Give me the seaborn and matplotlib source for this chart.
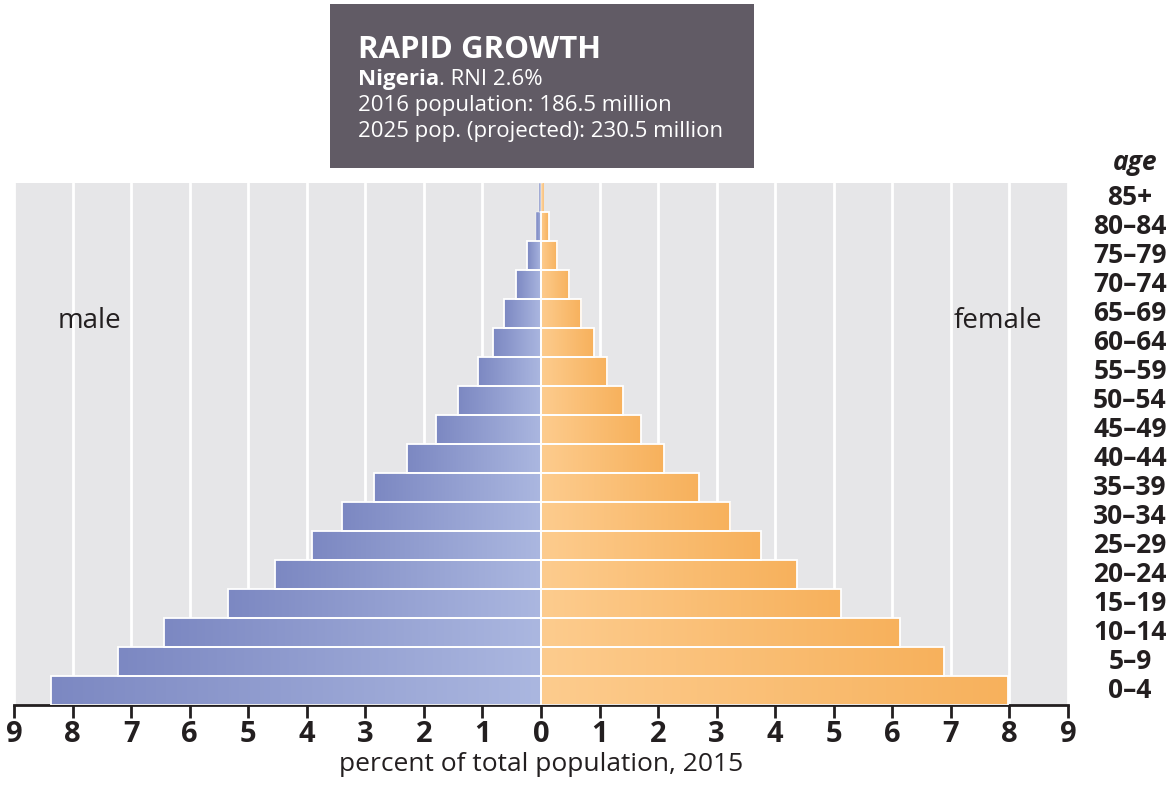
import numpy as np
import pandas as pd
import seaborn as sns
import matplotlib.pyplot as plt
from matplotlib.colors import LinearSegmentedColormap
from matplotlib.patches import Rectangle

# age groups, top of the pyramid first
ages = ['85+', '80–84', '75–79', '70–74', '65–69', '60–64', '55–59',
        '50–54', '45–49', '40–44', '35–39', '30–34', '25–29', '20–24',
        '15–19', '10–14', '5–9', '0–4']
male = [0.03, 0.09, 0.24, 0.43, 0.63, 0.82, 1.07, 1.41, 1.80, 2.28,
        2.85, 3.39, 3.91, 4.55, 5.35, 6.43, 7.22, 8.37]
female = [0.04, 0.13, 0.28, 0.48, 0.69, 0.90, 1.13, 1.40, 1.70, 2.10,
          2.69, 3.23, 3.75, 4.37, 5.12, 6.13, 6.88, 7.97]
xticks = list(range(-9, 10))

INK = '#231f20'
sns.set_style('whitegrid', {'axes.facecolor': '#e6e6e8',
                            'grid.color': 'white'})
plt.rcParams['font.family'] = ['Open Sans', 'DejaVu Sans']
plt.rcParams['text.color'] = INK
plt.rcParams['xtick.color'] = INK
plt.rcParams['axes.labelcolor'] = INK

df = pd.DataFrame({
    'age': ages * 2,
    'sex': ['male'] * len(ages) + ['female'] * len(ages),
    'pct': [-v for v in male] + female,
})

fig = plt.figure(figsize=(11.76, 8.09), dpi=100)
ax = fig.add_axes([14 / 1176, 1 - 705 / 809, 1054 / 1176, 522 / 809])

sns.barplot(data=df, x='pct', y='age', hue='sex', order=ages,
            hue_order=['male', 'female'], dodge=False, width=1.0,
            orient='h', legend=False, ax=ax)

male_cmap = LinearSegmentedColormap.from_list('m', ['#7c88c2', '#abb7e0'])
female_cmap = LinearSegmentedColormap.from_list('f', ['#fdcc8e', '#f7b15c'])
grad = np.linspace(0, 1, 256).reshape(1, -1)

# gradient fill, clipped to each bar
for p in ax.patches:
    x0, x1 = sorted([p.get_x(), p.get_x() + p.get_width()])
    y0, y1 = sorted([p.get_y(), p.get_y() + p.get_height()])
    cmap = male_cmap if x0 < 0 else female_cmap
    im = ax.imshow(grad, cmap=cmap, aspect='auto', extent=(x0, x1, y1, y0),
                   interpolation='bicubic', zorder=2)
    im.set_clip_path(p)
    p.set_facecolor('none')
    p.set_edgecolor('white')
    # very thin bars (85+) would vanish under a full white edge
    p.set_linewidth(1.3 if x1 - x0 > 0.1 else 0.3)
    p.set_zorder(3)

ax.set_xlim(-9, 9)
ax.set_ylim(len(ages) - 0.5, -0.5)
ax.set_xticks(xticks)
ax.set_xticklabels([str(abs(t)) for t in xticks], fontsize=21,
                   fontweight='bold')
ax.xaxis.grid(True, color='white', lw=2)
ax.yaxis.grid(False)
ax.set_axisbelow(True)
for s in ['top', 'left', 'right']:
    ax.spines[s].set_visible(False)
ax.spines['bottom'].set_color(INK)
ax.spines['bottom'].set_linewidth(2)
ax.tick_params(axis='x', bottom=True, direction='out', length=9, width=2,
               color=INK, pad=2)
ax.set_yticks([])
ax.set_ylabel('')
ax.set_xlabel('percent of total population, 2015', fontsize=19,
              labelpad=2)

# age labels on the right
for i, a in enumerate(ages):
    ax.text(1.0588, i, a, transform=ax.get_yaxis_transform(), ha='center',
            va='center', fontsize=19, fontweight='bold')
fig.text(1135 / 1176, 1 - 163 / 809, 'age', ha='center', va='center',
         fontsize=19, fontweight='bold', style='italic')

ax.text(0.072, 0.735, 'male', transform=ax.transAxes, ha='center',
        va='center', fontsize=20)
ax.text(0.933, 0.735, 'female', transform=ax.transAxes, ha='center',
        va='center', fontsize=20)

# title box
fig.patches.append(Rectangle((330 / 1176, 1 - 168 / 809), 424 / 1176,
                             164 / 809, transform=fig.transFigure,
                             facecolor='#615b65', edgecolor='none'))
tx = 358 / 1176
fig.text(tx, 1 - 58 / 809, 'RAPID GROWTH', color='white', fontsize=22.5,
         fontweight='bold', va='baseline')
t1 = fig.text(tx, 1 - 85 / 809, 'Nigeria', color='white', fontsize=16,
              fontweight='bold', va='baseline')
fig.canvas.draw()
bb = t1.get_window_extent()
fig.text(bb.x1 / fig.bbox.width, 1 - 85 / 809, '. RNI 2.6%', color='white',
         fontsize=16, va='baseline')
fig.text(tx, 1 - 111 / 809, '2016 population: 186.5 million', color='white',
         fontsize=16, va='baseline')
fig.text(tx, 1 - 137 / 809, '2025 pop. (projected): 230.5 million',
         color='white', fontsize=16, va='baseline')

fig.savefig('out.png', dpi=100)
